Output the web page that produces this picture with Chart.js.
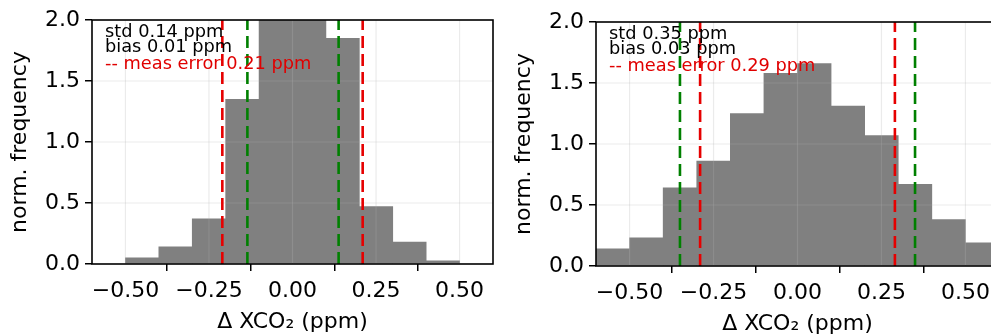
<!DOCTYPE html>
<html><head><meta charset="utf-8">
<script src="https://cdn.jsdelivr.net/npm/chart.js@4.4.1/dist/chart.umd.min.js"></script>
<style>
html,body{margin:0;padding:0;background:#fff;overflow:hidden;width:991px;height:336px;}
canvas{position:absolute;display:block;}
</style></head><body>
<canvas id="c1" width="500" height="336" style="left:0;top:0;"></canvas>
<canvas id="c2" width="500" height="336" style="left:504px;top:2px;"></canvas>
<script>
// ---- data ----
const binCentersLeft = [-0.45,-0.35,-0.25,-0.15,-0.05,0.05,0.15,0.25,0.35,0.45];
const freqLeft       = [0.05,0.14,0.37,1.35,2.75,2.80,1.85,0.47,0.18,0.025];
const binCentersRight = [-0.55,-0.45,-0.35,-0.25,-0.15,-0.05,0.05,0.15,0.25,0.35,0.45,0.55];
const freqRight       = [0.14,0.23,0.64,0.86,1.25,1.58,1.66,1.31,1.07,0.67,0.38,0.19];
const stdLinesLeft  = [-0.135, 0.138];
const measLinesLeft = [-0.21, 0.21];
const stdLinesRight  = [-0.35, 0.35];
const measLinesRight = [-0.29, 0.29];
const xTicks = [-0.5,-0.25,0,0.25,0.5];
const yTicks = [0,0.5,1.0,1.5,2.0];
const textsLeft  = ['std 0.14 ppm','bias 0.01 ppm','-- meas error 0.21 ppm'];
const textsRight = ['std 0.35 ppm','bias 0.03 ppm','-- meas error 0.29 ppm'];
const yTitle = 'norm. frequency';
const xTitle = '\u0394 XCO\u2082 (ppm)';

Chart.defaults.color = '#000';
Chart.defaults.font.family = '"DejaVu Sans"';

const FONT = '"DejaVu Sans"';
const textColors = ['#000','#000','#e00000'];
const textDy = [16.7, 32.3, 49.3];

function makePlugin(texts){
  return {
    id:'panel',
    afterDatasetDraw(chart, args){
      if (args.meta.type !== 'bar') return;
      const {ctx, chartArea:a, scales:{x,y}} = chart;
      ctx.save();
      ctx.beginPath(); ctx.rect(a.left,a.top,a.right-a.left,a.bottom-a.top); ctx.clip();
      ctx.strokeStyle = 'rgba(176,176,176,0.25)';
      ctx.lineWidth = 1.2;
      x.ticks.forEach(t=>{const p=x.getPixelForValue(t.value);ctx.beginPath();ctx.moveTo(p,a.top);ctx.lineTo(p,a.bottom);ctx.stroke();});
      y.ticks.forEach(t=>{const p=y.getPixelForValue(t.value);ctx.beginPath();ctx.moveTo(a.left,p);ctx.lineTo(a.right,p);ctx.stroke();});
      ctx.restore();
    },
    afterDraw(chart){
      const {ctx, chartArea:a} = chart;
      ctx.save();
      ctx.strokeStyle = '#000'; ctx.lineWidth = 1.6;
      ctx.strokeRect(a.left, a.top, a.right-a.left, a.bottom-a.top);
      ctx.font = '17.8px ' + FONT;
      ctx.textBaseline = 'alphabetic'; ctx.textAlign = 'left';
      texts.forEach((t,i)=>{ ctx.fillStyle = textColors[i]; ctx.fillText(t, a.left+13, a.top+textDy[i]); });
      ctx.restore();
    }
  };
}

function vline(v, color){
  return {type:'line', data:[{x:v,y:0},{x:v,y:2}], borderColor:color, borderWidth:2.6,
    borderDash:[12,6], pointRadius:0, fill:false, order:0, tension:0};
}

function makeChart(id, centers, freq, stdL, measL, texts, padRight){
  const datasets = [{
    type:'bar', data: centers.map((c,i)=>({x:c,y:freq[i]})),
    backgroundColor:'#808080', borderWidth:0, barPercentage:1.0, categoryPercentage:1.0, order:1
  }];
  measL.forEach(v=>datasets.push(vline(v,'#e60000')));
  stdL.forEach(v=>datasets.push(vline(v,'#008000')));
  return new Chart(document.getElementById(id), {
    type:'bar',
    data:{datasets},
    plugins:[makePlugin(texts)],
    options:{
      responsive:false, animation:false, events:[],
      layout:{padding:{left:0,right:padRight,top:20,bottom:0}},
      plugins:{legend:{display:false}, tooltip:{enabled:false}},
      scales:{
        x:{type:'linear', min:-0.6, max:0.6, offset:false,
          afterBuildTicks:s=>{s.ticks = xTicks.map(v=>({value:v}));},
          afterFit:s=>{s.height = 72;},
          ticks:{font:{size:22, family:FONT}, color:'#000', padding:7, maxRotation:0, autoSkip:false,
            callback:v=>Number(v).toFixed(2).replace('-','\u2212')},
          grid:{drawOnChartArea:false, tickColor:'#000', tickLength:7, lineWidth:1.5},
          border:{display:false},
          title:{display:true, text:xTitle, font:{size:22, family:FONT}, color:'#000', padding:{top:0,bottom:1}}
        },
        y:{type:'linear', min:0, max:2,
          afterBuildTicks:s=>{s.ticks = yTicks.map(v=>({value:v}));},
          afterFit:s=>{s.width = 92;},
          ticks:{font:{size:22, family:FONT}, color:'#000', padding:5, autoSkip:false,
            callback:v=>Number(v).toFixed(1)},
          grid:{drawOnChartArea:false, tickColor:'#000', tickLength:7, lineWidth:1.5},
          border:{display:false},
          title:{display:true, text:yTitle, font:{size:22, family:FONT}, color:'#000', padding:{top:7.5,bottom:0}}
        }
      }
    }
  });
}

makeChart('c1', binCentersLeft, freqLeft, stdLinesLeft, measLinesLeft, textsLeft, 7);
makeChart('c2', binCentersRight, freqRight, stdLinesRight, measLinesRight, textsRight, 5);
</script>
</body></html>
